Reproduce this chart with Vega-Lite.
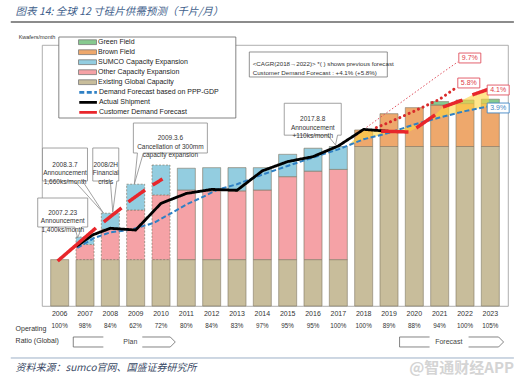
{
"$schema":"https://vega.github.io/schema/vega-lite/v6.json",
"width":466,"height":261,
"autosize":{"type":"none"},
"padding":{"left":42,"top":45,"right":15,"bottom":77},
"background":"white",
"config":{"font":"Liberation Sans","view":{"stroke":"#9a9a9a","strokeWidth":0.8}},
"datasets":{
"bars":[
{"year":2006,"series":"Existing Global Capacity","value":1600},
{"year":2007,"series":"Existing Global Capacity","value":1600},{"year":2007,"series":"Other Capacity Expansion","value":520},{"year":2007,"series":"SUMCO Capacity Expansion","value":260},
{"year":2008,"series":"Existing Global Capacity","value":1600},{"year":2008,"series":"Other Capacity Expansion","value":1050},{"year":2008,"series":"SUMCO Capacity Expansion","value":550},
{"year":2009,"series":"Existing Global Capacity","value":1600},{"year":2009,"series":"Other Capacity Expansion","value":1710},{"year":2009,"series":"SUMCO Capacity Expansion","value":890},
{"year":2010,"series":"Existing Global Capacity","value":1600},{"year":2010,"series":"Other Capacity Expansion","value":2230},{"year":2010,"series":"SUMCO Capacity Expansion","value":1030},
{"year":2011,"series":"Existing Global Capacity","value":1600},{"year":2011,"series":"Other Capacity Expansion","value":2400},{"year":2011,"series":"SUMCO Capacity Expansion","value":750},
{"year":2012,"series":"Existing Global Capacity","value":1600},{"year":2012,"series":"Other Capacity Expansion","value":2370},{"year":2012,"series":"SUMCO Capacity Expansion","value":800},
{"year":2013,"series":"Existing Global Capacity","value":1600},{"year":2013,"series":"Other Capacity Expansion","value":2370},{"year":2013,"series":"SUMCO Capacity Expansion","value":800},
{"year":2014,"series":"Existing Global Capacity","value":1600},{"year":2014,"series":"Other Capacity Expansion","value":2400},{"year":2014,"series":"SUMCO Capacity Expansion","value":770},
{"year":2015,"series":"Existing Global Capacity","value":1600},{"year":2015,"series":"Other Capacity Expansion","value":2860},{"year":2015,"series":"SUMCO Capacity Expansion","value":770},
{"year":2016,"series":"Existing Global Capacity","value":1600},{"year":2016,"series":"Other Capacity Expansion","value":3050},{"year":2016,"series":"SUMCO Capacity Expansion","value":790},
{"year":2017,"series":"Existing Global Capacity","value":1600},{"year":2017,"series":"Other Capacity Expansion","value":3110},{"year":2017,"series":"SUMCO Capacity Expansion","value":790},
{"year":2018,"series":"Existing Global Capacity","value":5500},{"year":2018,"series":"Brown Field","value":570},
{"year":2019,"series":"Existing Global Capacity","value":5500},{"year":2019,"series":"Brown Field","value":1130},
{"year":2020,"series":"Existing Global Capacity","value":5500},{"year":2020,"series":"Brown Field","value":1340},
{"year":2021,"series":"Existing Global Capacity","value":5500},{"year":2021,"series":"Brown Field","value":1430},{"year":2021,"series":"Green Field","value":120},
{"year":2022,"series":"Existing Global Capacity","value":5500},{"year":2022,"series":"Brown Field","value":1480},{"year":2022,"series":"Green Field","value":120},
{"year":2023,"series":"Existing Global Capacity","value":5500},{"year":2023,"series":"Brown Field","value":1480},{"year":2023,"series":"Green Field","value":150}
],
"stackorder":[
{"series":"Existing Global Capacity","level":1},{"series":"Other Capacity Expansion","level":2},{"series":"SUMCO Capacity Expansion","level":3},{"series":"Brown Field","level":4},{"series":"Green Field","level":5}
],
"lines":[
{"series":"Actual Shipment","seg":"a","year":2006.65,"value":2050},
{"series":"Actual Shipment","seg":"a","year":2007.3,"value":2450},
{"series":"Actual Shipment","seg":"a","year":2008,"value":2680},
{"series":"Actual Shipment","seg":"a","year":2009,"value":2620},
{"series":"Actual Shipment","seg":"a","year":2010,"value":3540},
{"series":"Actual Shipment","seg":"a","year":2011,"value":3880},
{"series":"Actual Shipment","seg":"a","year":2012,"value":4020},
{"series":"Actual Shipment","seg":"a","year":2013,"value":3990},
{"series":"Actual Shipment","seg":"a","year":2014,"value":4660},
{"series":"Actual Shipment","seg":"a","year":2015,"value":4980},
{"series":"Actual Shipment","seg":"a","year":2016,"value":5150},
{"series":"Actual Shipment","seg":"a","year":2017,"value":5520},
{"series":"Actual Shipment","seg":"a","year":2018,"value":6090},
{"series":"Actual Shipment","seg":"a","year":2019.2,"value":6010},
{"series":"Demand Forecast based on PPP-GDP","seg":"d","year":2006.7,"value":2000},
{"series":"Demand Forecast based on PPP-GDP","seg":"d","year":2007.35,"value":2340},
{"series":"Demand Forecast based on PPP-GDP","seg":"d","year":2008,"value":2540},
{"series":"Demand Forecast based on PPP-GDP","seg":"d","year":2008.8,"value":2630},
{"series":"Demand Forecast based on PPP-GDP","seg":"d","year":2009.7,"value":2860},
{"series":"Demand Forecast based on PPP-GDP","seg":"d","year":2010.3,"value":3150},
{"series":"Demand Forecast based on PPP-GDP","seg":"d","year":2011,"value":3500},
{"series":"Demand Forecast based on PPP-GDP","seg":"d","year":2011.7,"value":3780},
{"series":"Demand Forecast based on PPP-GDP","seg":"d","year":2012.2,"value":4000},
{"series":"Demand Forecast based on PPP-GDP","seg":"d","year":2013,"value":4200},
{"series":"Demand Forecast based on PPP-GDP","seg":"d","year":2014,"value":4530},
{"series":"Demand Forecast based on PPP-GDP","seg":"d","year":2015,"value":4830},
{"series":"Demand Forecast based on PPP-GDP","seg":"d","year":2016,"value":5120},
{"series":"Demand Forecast based on PPP-GDP","seg":"d","year":2017,"value":5400},
{"series":"Demand Forecast based on PPP-GDP","seg":"d","year":2018,"value":5750},
{"series":"Demand Forecast based on PPP-GDP","seg":"d","year":2019,"value":5970},
{"series":"Demand Forecast based on PPP-GDP","seg":"d","year":2020,"value":6260},
{"series":"Demand Forecast based on PPP-GDP","seg":"d","year":2021,"value":6500},
{"series":"Demand Forecast based on PPP-GDP","seg":"d","year":2022,"value":6720},
{"series":"Demand Forecast based on PPP-GDP","seg":"d","year":2023,"value":6900},
{"series":"Customer Demand Forecast","seg":"c1","year":2005.92,"value":1550},
{"series":"Customer Demand Forecast","seg":"c1","year":2007.43,"value":2690},
{"series":"Customer Demand Forecast","seg":"c2","year":2007.74,"value":2900},
{"series":"Customer Demand Forecast","seg":"c2","year":2008.44,"value":3380},
{"series":"Customer Demand Forecast","seg":"c3","year":2008.71,"value":3590},
{"series":"Customer Demand Forecast","seg":"c3","year":2009.37,"value":4000},
{"series":"Customer Demand Forecast","seg":"c4","year":2009.67,"value":4170},
{"series":"Customer Demand Forecast","seg":"c4","year":2010.06,"value":4380},
{"series":"Customer Demand Forecast","seg":"c5","year":2018.69,"value":6030},
{"series":"Customer Demand Forecast","seg":"c5","year":2019.77,"value":6000},
{"series":"Customer Demand Forecast","seg":"c6","year":2020.08,"value":6140},
{"series":"Customer Demand Forecast","seg":"c6","year":2020.82,"value":6590},
{"series":"Customer Demand Forecast","seg":"c7","year":2021.13,"value":6860},
{"series":"Customer Demand Forecast","seg":"c7","year":2021.9,"value":7100},
{"series":"Customer Demand Forecast","seg":"c8","year":2022.29,"value":7280},
{"series":"Customer Demand Forecast","seg":"c8","year":2022.94,"value":7480},
{"series":"Previous forecast (9.7%)","seg":"p1","year":2018,"value":6090},
{"series":"Previous forecast (9.7%)","seg":"p1","year":2019,"value":6720},
{"series":"Previous forecast (9.7%)","seg":"p1","year":2020,"value":7350},
{"series":"Previous forecast (9.7%)","seg":"p1","year":2021,"value":7980},
{"series":"Previous forecast (9.7%)","seg":"p1","year":2021.72,"value":8420},
{"series":"Previous forecast (5.8%)","seg":"p2","year":2018.5,"value":6150},
{"series":"Previous forecast (5.8%)","seg":"p2","year":2019,"value":6330},
{"series":"Previous forecast (5.8%)","seg":"p2","year":2020,"value":6720},
{"series":"Previous forecast (5.8%)","seg":"p2","year":2021,"value":7130},
{"series":"Previous forecast (5.8%)","seg":"p2","year":2021.7,"value":7560}
],
"band":[
{"year":2017.4,"lo":5540,"hi":5540},
{"year":2018,"lo":5750,"hi":6090},
{"year":2018.7,"lo":5900,"hi":6030},
{"year":2019.2,"lo":6030,"hi":6020},
{"year":2019.77,"lo":6190,"hi":6000},
{"year":2020.08,"lo":6280,"hi":6140},
{"year":2020.82,"lo":6460,"hi":6590},
{"year":2021.13,"lo":6530,"hi":6860},
{"year":2021.9,"lo":6700,"hi":7100},
{"year":2022.29,"lo":6780,"hi":7280},
{"year":2022.94,"lo":6890,"hi":7480}
],
"ratios":[
{"year":2006,"ratio":"100%"},{"year":2007,"ratio":"98%"},{"year":2008,"ratio":"84%"},{"year":2009,"ratio":"62%"},{"year":2010,"ratio":"72%"},{"year":2011,"ratio":"80%"},{"year":2012,"ratio":"84%"},{"year":2013,"ratio":"83%"},{"year":2014,"ratio":"97%"},{"year":2015,"ratio":"95%"},{"year":2016,"ratio":"95%"},{"year":2017,"ratio":"100%"},{"year":2018,"ratio":"100%"},{"year":2019,"ratio":"89%"},{"year":2020,"ratio":"88%"},{"year":2021,"ratio":"94%"},{"year":2022,"ratio":"100%"},{"year":2023,"ratio":"105%"}
],
"pct":[
{"label":"9.7%","year":2022.19,"value":8552},
{"label":"5.8%","year":2022.15,"value":7690},
{"label":"4.1%","year":2023.31,"value":7448},
{"label":"3.9%","year":2023.31,"value":6828}
],
"linelegend":[
{"series":"Demand Forecast based on PPP-GDP","row":7369},
{"series":"Actual Shipment","row":7024},
{"series":"Customer Demand Forecast","row":6679}
]
},
"layer":[
{"data":{"name":"bars"},
 "transform":[{"lookup":"series","from":{"data":{"name":"stackorder"},"key":"series","fields":["level"]}}],
 "mark":{"type":"bar","size":18,"stroke":"#857c6a","strokeWidth":0.7},
 "encoding":{
  "x":{"field":"year","type":"quantitative","scale":{"domain":[2005.5,2023.5],"nice":false,"zero":false},
       "axis":{"values":[2006,2007,2008,2009,2010,2011,2012,2013,2014,2015,2016,2017,2018,2019,2020,2021,2022,2023],"labels":false,"title":null,"ticks":false,"domainColor":"#666","grid":false}},
  "y":{"field":"value","type":"quantitative","stack":"zero","scale":{"domain":[0,9000],"nice":false,"zero":false},
       "axis":{"values":[0,1000,2000,3000,4000,5000,6000,7000,8000,9000],"format":",","title":null,"labelFontSize":7.7,"labelColor":"#444","tickSize":4,"tickColor":"#666","domainColor":"#666","grid":false,"labelPadding":2}},
  "fill":{"field":"series","type":"nominal",
       "scale":{"domain":["Green Field","Brown Field","SUMCO Capacity Expansion","Other Capacity Expansion","Existing Global Capacity"],"range":["#86c98f","#eea86c","#93cde0","#f5a2a6","#c8bd9b"]},
       "legend":{"orient":"none","legendX":42,"legendY":-6.3,"title":null,"symbolType":"M-3,-0.8H3V0.8H-3Z","symbolSize":36,"symbolStrokeColor":"#7a7a7a","symbolStrokeWidth":0.8,"labelFontSize":7,"labelColor":"#222","labelOffset":7,"rowPadding":1}},
  "strokeDash":{"condition":{"test":"datum.year >= 2007 && datum.year <= 2010 && datum.series != 'Existing Global Capacity'","value":[2,1.5]},"value":[1,0]},
  "order":{"field":"level","type":"quantitative"}
 }},
{"data":{"name":"band"},
 "mark":{"type":"area","color":"#ffd640","opacity":0.6},
 "encoding":{
  "x":{"field":"year","type":"quantitative","scale":{"domain":[2005.5,2023.5],"nice":false,"zero":false},"axis":null},
  "y":{"field":"lo","type":"quantitative","scale":{"domain":[0,9000],"nice":false,"zero":false},"axis":null},
  "y2":{"field":"hi"}
 }},
{"data":{"name":"lines"},
 "transform":[{"filter":"datum.series == 'Previous forecast (9.7%)'"}],
 "mark":{"type":"line","color":"#e0505e","strokeWidth":1,"strokeDash":[1.5,2]},
 "encoding":{
  "x":{"field":"year","type":"quantitative","scale":{"domain":[2005.5,2023.5],"nice":false,"zero":false},"axis":null},
  "y":{"field":"value","type":"quantitative","scale":{"domain":[0,9000],"nice":false,"zero":false},"axis":null}
 }},
{"data":{"name":"lines"},
 "transform":[{"filter":"datum.series == 'Previous forecast (5.8%)'"}],
 "mark":{"type":"line","color":"#d92b2b","strokeWidth":3,"strokeDash":[0.1,5],"strokeCap":"round"},
 "encoding":{
  "x":{"field":"year","type":"quantitative","scale":{"domain":[2005.5,2023.5],"nice":false,"zero":false},"axis":null},
  "y":{"field":"value","type":"quantitative","scale":{"domain":[0,9000],"nice":false,"zero":false},"axis":null}
 }},
{"data":{"name":"lines"},
 "transform":[{"filter":"datum.series == 'Demand Forecast based on PPP-GDP'"}],
 "mark":{"type":"line","strokeWidth":2},
 "encoding":{
  "x":{"field":"year","type":"quantitative","scale":{"domain":[2005.5,2023.5],"nice":false,"zero":false},"axis":null},
  "y":{"field":"value","type":"quantitative","scale":{"domain":[0,9000],"nice":false,"zero":false},"axis":null},
  "stroke":{"field":"series","type":"nominal","scale":{"domain":["Demand Forecast based on PPP-GDP","Actual Shipment","Customer Demand Forecast"],"range":["#2f80c4","#000000","#e8262b"]},"legend":null},
  "strokeDash":{"field":"series","type":"nominal","scale":{"domain":["Demand Forecast based on PPP-GDP","Actual Shipment","Customer Demand Forecast"],"range":[[5,2.5],[1,0],[1,0]]},"legend":null}
 }},
{"data":{"name":"lines"},
 "transform":[{"filter":"datum.series == 'Actual Shipment'"}],
 "mark":{"type":"line","strokeWidth":2.8},
 "encoding":{
  "x":{"field":"year","type":"quantitative","scale":{"domain":[2005.5,2023.5],"nice":false,"zero":false},"axis":null},
  "y":{"field":"value","type":"quantitative","scale":{"domain":[0,9000],"nice":false,"zero":false},"axis":null},
  "stroke":{"field":"series","type":"nominal","scale":{"domain":["Demand Forecast based on PPP-GDP","Actual Shipment","Customer Demand Forecast"],"range":["#2f80c4","#000000","#e8262b"]},"legend":null},
  "strokeDash":{"field":"series","type":"nominal","scale":{"domain":["Demand Forecast based on PPP-GDP","Actual Shipment","Customer Demand Forecast"],"range":[[5,2.5],[1,0],[1,0]]},"legend":null}
 }},
{"data":{"name":"lines"},
 "transform":[{"filter":"datum.series == 'Customer Demand Forecast'"}],
 "mark":{"type":"line","strokeWidth":3.5},
 "encoding":{
  "x":{"field":"year","type":"quantitative","scale":{"domain":[2005.5,2023.5],"nice":false,"zero":false},"axis":null},
  "y":{"field":"value","type":"quantitative","scale":{"domain":[0,9000],"nice":false,"zero":false},"axis":null},
  "detail":{"field":"seg"},
  "stroke":{"field":"series","type":"nominal","scale":{"domain":["Demand Forecast based on PPP-GDP","Actual Shipment","Customer Demand Forecast"],"range":["#2f80c4","#000000","#e8262b"]},"legend":null},
  "strokeDash":{"field":"series","type":"nominal","scale":{"domain":["Demand Forecast based on PPP-GDP","Actual Shipment","Customer Demand Forecast"],"range":[[5,2.5],[1,0],[1,0]]},"legend":null}
 }},
{"data":{"values":[{}]},
 "mark":{"type":"point","shape":"M-1,-0.4576H1V0.4576H-1Z","size":31329,"filled":true,"fill":"white","stroke":"#666","strokeWidth":0.8,"opacity":1},
 "encoding":{"x":{"datum":2009.46,"type":"quantitative","scale":{"domain":[2005.5,2023.5],"nice":false,"zero":false},"axis":null},"y":{"datum":7879,"type":"quantitative","scale":{"domain":[0,9000],"nice":false,"zero":false},"axis":null}}},
{"data":{"name":"linelegend"},
 "mark":{"type":"rule","strokeWidth":2.8},
 "encoding":{"x":{"datum":2006.774,"type":"quantitative","scale":{"domain":[2005.5,2023.5],"nice":false,"zero":false},"axis":null},"x2":{"datum":2007.47},
  "y":{"field":"row","type":"quantitative","scale":{"domain":[0,9000],"nice":false,"zero":false},"axis":null},
  "stroke":{"field":"series","type":"nominal","scale":{"domain":["Demand Forecast based on PPP-GDP","Actual Shipment","Customer Demand Forecast"],"range":["#2f80c4","#000000","#e8262b"]},"legend":null},
  "strokeDash":{"field":"series","type":"nominal","scale":{"domain":["Demand Forecast based on PPP-GDP","Actual Shipment","Customer Demand Forecast"],"range":[[5,2.5],[1,0],[1,0]]},"legend":null}}},
{"data":{"name":"linelegend"},
 "mark":{"type":"text","fontSize":7,"color":"#222","align":"left","baseline":"middle"},
 "encoding":{"x":{"datum":2007.55,"type":"quantitative","scale":{"domain":[2005.5,2023.5],"nice":false,"zero":false},"axis":null},
  "y":{"field":"row","type":"quantitative","scale":{"domain":[0,9000],"nice":false,"zero":false},"axis":null},
  "text":{"field":"series"}}},
{"data":{"values":[{}]},
 "mark":{"type":"point","shape":"M-1,-0.58H1V0.58H0.76L0.6,1.02L0.48,0.58H-1Z","size":2500,"filled":true,"fill":"white","stroke":"#8a8a8a","strokeWidth":0.8,"opacity":1},
 "encoding":{"x":{"datum":2006.12,"type":"quantitative","scale":{"domain":[2005.5,2023.5],"nice":false,"zero":false},"axis":null},"y":{"datum":3224,"type":"quantitative","scale":{"domain":[0,9000],"nice":false,"zero":false},"axis":null}}},
{"data":{"values":[{}]},
 "mark":{"type":"text","text":["2007.2.23","Announcement","1,400ks/month"],"fontSize":6.5,"lineHeight":8.8,"color":"#333","baseline":"middle"},
 "encoding":{"x":{"datum":2006.12,"type":"quantitative","scale":{"domain":[2005.5,2023.5],"nice":false,"zero":false},"axis":null},"y":{"datum":3224,"type":"quantitative","scale":{"domain":[0,9000],"nice":false,"zero":false},"axis":null}}},
{"data":{"values":[{}]},
 "mark":{"type":"point","shape":"M-1,-0.733H1V0.733H0.78L1.71,2.16L0.42,0.733H-1Z","size":2025,"filled":true,"fill":"white","stroke":"#8a8a8a","strokeWidth":0.8,"opacity":1},
 "encoding":{"x":{"datum":2006.21,"type":"quantitative","scale":{"domain":[2005.5,2023.5],"nice":false,"zero":false},"axis":null},"y":{"datum":4879,"type":"quantitative","scale":{"domain":[0,9000],"nice":false,"zero":false},"axis":null}}},
{"data":{"values":[{}]},
 "mark":{"type":"text","text":["2008.3.7","Announcement","1,660ks/month"],"fontSize":6.5,"lineHeight":8.8,"color":"#333","baseline":"middle"},
 "encoding":{"x":{"datum":2006.21,"type":"quantitative","scale":{"domain":[2005.5,2023.5],"nice":false,"zero":false},"axis":null},"y":{"datum":4879,"type":"quantitative","scale":{"domain":[0,9000],"nice":false,"zero":false},"axis":null}}},
{"data":{"values":[{}]},
 "mark":{"type":"point","shape":"M-1,-1.27H1V1.27H0.85L0.54,3.65L0.35,1.27H-1Z","size":676,"filled":true,"fill":"white","stroke":"#8a8a8a","strokeWidth":0.8,"opacity":1},
 "encoding":{"x":{"datum":2007.82,"type":"quantitative","scale":{"domain":[2005.5,2023.5],"nice":false,"zero":false},"axis":null},"y":{"datum":4879,"type":"quantitative","scale":{"domain":[0,9000],"nice":false,"zero":false},"axis":null}}},
{"data":{"values":[{}]},
 "mark":{"type":"text","text":["2008/2H","Financial","crisis"],"fontSize":6.5,"lineHeight":8.8,"color":"#333","baseline":"middle"},
 "encoding":{"x":{"datum":2007.82,"type":"quantitative","scale":{"domain":[2005.5,2023.5],"nice":false,"zero":false},"axis":null},"y":{"datum":4879,"type":"quantitative","scale":{"domain":[0,9000],"nice":false,"zero":false},"axis":null}}},
{"data":{"values":[{}]},
 "mark":{"type":"point","shape":"M-1,-0.405H1V0.405H-0.73L-0.973,1.243L-0.89,0.405H-1Z","size":5476,"filled":true,"fill":"white","stroke":"#8a8a8a","strokeWidth":0.8,"opacity":1},
 "encoding":{"x":{"datum":2010.37,"type":"quantitative","scale":{"domain":[2005.5,2023.5],"nice":false,"zero":false},"axis":null},"y":{"datum":5793,"type":"quantitative","scale":{"domain":[0,9000],"nice":false,"zero":false},"axis":null}}},
{"data":{"values":[{}]},
 "mark":{"type":"text","text":["2009.3.6","Cancellation of 300mm","capacity expansion"],"fontSize":6.5,"lineHeight":8.6,"color":"#333","baseline":"middle"},
 "encoding":{"x":{"datum":2010.37,"type":"quantitative","scale":{"domain":[2005.5,2023.5],"nice":false,"zero":false},"axis":null},"y":{"datum":5793,"type":"quantitative","scale":{"domain":[0,9000],"nice":false,"zero":false},"axis":null}}},
{"data":{"values":[{}]},
 "mark":{"type":"point","shape":"M-1,-0.56H1V0.56H0.87L0.8,0.905L0.52,0.56H-1Z","size":3249,"filled":true,"fill":"white","stroke":"#8a8a8a","strokeWidth":0.8,"opacity":1},
 "encoding":{"x":{"datum":2015.99,"type":"quantitative","scale":{"domain":[2005.5,2023.5],"nice":false,"zero":false},"axis":null},"y":{"datum":6441,"type":"quantitative","scale":{"domain":[0,9000],"nice":false,"zero":false},"axis":null}}},
{"data":{"values":[{}]},
 "mark":{"type":"text","text":["2017.8.8","Announcement","+110ks/month"],"fontSize":6.5,"lineHeight":8.6,"color":"#333","baseline":"middle"},
 "encoding":{"x":{"datum":2015.99,"type":"quantitative","scale":{"domain":[2005.5,2023.5],"nice":false,"zero":false},"axis":null},"y":{"datum":6441,"type":"quantitative","scale":{"domain":[0,9000],"nice":false,"zero":false},"axis":null}}},
{"data":{"values":[{}]},
 "mark":{"type":"point","shape":"M-1,-0.181H1V0.181H-1Z","size":19044,"filled":true,"fill":"white","stroke":"#777","strokeWidth":0.8,"opacity":1},
 "encoding":{"x":{"datum":2016.21,"type":"quantitative","scale":{"domain":[2005.5,2023.5],"nice":false,"zero":false},"axis":null},"y":{"datum":8328,"type":"quantitative","scale":{"domain":[0,9000],"nice":false,"zero":false},"axis":null}}},
{"data":{"values":[{}]},
 "mark":{"type":"text","text":["<CAGR(2018→2022)> *( ) shows previous forecast","Customer Demand Forecast : +4.1% (+5.8%)"],"fontSize":6.2,"lineHeight":9.3,"color":"#333","align":"left","baseline":"middle"},
 "encoding":{"x":{"datum":2013.62,"type":"quantitative","scale":{"domain":[2005.5,2023.5],"nice":false,"zero":false},"axis":null},"y":{"datum":8359,"type":"quantitative","scale":{"domain":[0,9000],"nice":false,"zero":false},"axis":null}}},
{"data":{"name":"pct"},
 "mark":{"type":"point","shape":"M-1,-0.45H1V0.45H-1Z","size":484,"filled":true,"fill":"white","strokeWidth":0.9,"opacity":1},
 "encoding":{"x":{"field":"year","type":"quantitative","scale":{"domain":[2005.5,2023.5],"nice":false,"zero":false},"axis":null},"y":{"field":"value","type":"quantitative","scale":{"domain":[0,9000],"nice":false,"zero":false},"axis":null},
  "stroke":{"condition":{"test":"datum.label == '3.9%'","value":"#3f86c4"},"value":"#e0505e"}}},
{"data":{"name":"pct"},
 "mark":{"type":"text","fontSize":7,"baseline":"middle"},
 "encoding":{"x":{"field":"year","type":"quantitative","scale":{"domain":[2005.5,2023.5],"nice":false,"zero":false},"axis":null},"y":{"field":"value","type":"quantitative","scale":{"domain":[0,9000],"nice":false,"zero":false},"axis":null},
  "text":{"field":"label"},
  "color":{"condition":{"test":"datum.label == '3.9%'","value":"#3f86c4"},"value":"#e0404a"}}},
{"data":{"name":"ratios"},
 "mark":{"type":"text","fontSize":7,"color":"#333","yOffset":8,"baseline":"middle"},
 "encoding":{"x":{"field":"year","type":"quantitative","scale":{"domain":[2005.5,2023.5],"nice":false,"zero":false},"axis":null},"y":{"datum":0,"type":"quantitative","scale":{"domain":[0,9000],"nice":false,"zero":false},"axis":null},"text":{"field":"year","type":"quantitative","format":"d"}}},
{"data":{"name":"ratios"},
 "mark":{"type":"text","fontSize":6.3,"color":"#333","yOffset":20,"baseline":"middle"},
 "encoding":{"x":{"field":"year","type":"quantitative","scale":{"domain":[2005.5,2023.5],"nice":false,"zero":false},"axis":null},"y":{"datum":0,"type":"quantitative","scale":{"domain":[0,9000],"nice":false,"zero":false},"axis":null},"text":{"field":"ratio"}}},
{"data":{"values":[{}]},
 "mark":{"type":"text","text":["Operating","Ratio (Global)"],"fontSize":7,"lineHeight":12,"color":"#333","align":"left","baseline":"middle","yOffset":23},
 "encoding":{"x":{"datum":2004.26,"type":"quantitative","scale":{"domain":[2005.5,2023.5],"nice":false,"zero":false},"axis":null},"y":{"datum":0,"type":"quantitative","scale":{"domain":[0,9000],"nice":false,"zero":false},"axis":null}}},
{"data":{"values":[{}]},
 "mark":{"type":"point","shape":"M-0.41,-0.098H-1V0.098H-0.41M0.353,-0.098H0.902L1,0L0.902,0.098H0.353","size":10404,"filled":false,"stroke":"#666","strokeWidth":0.8,"opacity":1},
 "encoding":{"x":{"datum":2008.55,"type":"quantitative","scale":{"domain":[2005.5,2023.5],"nice":false,"zero":false},"axis":null},"y":{"datum":-1241,"type":"quantitative","scale":{"domain":[0,9000],"nice":false,"zero":false},"axis":null}}},
{"data":{"values":[{}]},
 "mark":{"type":"point","shape":"M-0.423,-0.096H-1V0.096H-0.423M0.327,-0.096H0.904L1,0L0.904,0.096H0.327","size":10816,"filled":false,"stroke":"#666","strokeWidth":0.8,"opacity":1},
 "encoding":{"x":{"datum":2021.47,"type":"quantitative","scale":{"domain":[2005.5,2023.5],"nice":false,"zero":false},"axis":null},"y":{"datum":-1241,"type":"quantitative","scale":{"domain":[0,9000],"nice":false,"zero":false},"axis":null}}},
{"data":{"values":[{}]},
 "mark":{"type":"text","text":"Plan","fontSize":7,"color":"#444","baseline":"middle"},
 "encoding":{"x":{"datum":2008.79,"type":"quantitative","scale":{"domain":[2005.5,2023.5],"nice":false,"zero":false},"axis":null},"y":{"datum":-1241,"type":"quantitative","scale":{"domain":[0,9000],"nice":false,"zero":false},"axis":null}}},
{"data":{"values":[{}]},
 "mark":{"type":"text","text":"Forecast","fontSize":7,"color":"#444","baseline":"middle"},
 "encoding":{"x":{"datum":2021.36,"type":"quantitative","scale":{"domain":[2005.5,2023.5],"nice":false,"zero":false},"axis":null},"y":{"datum":-1241,"type":"quantitative","scale":{"domain":[0,9000],"nice":false,"zero":false},"axis":null}}},
{"data":{"values":[{}]},
 "mark":{"type":"text","text":"Kwafers/month","fontSize":5.5,"color":"#333","align":"left","baseline":"middle"},
 "encoding":{"x":{"datum":2004.38,"type":"quantitative","scale":{"domain":[2005.5,2023.5],"nice":false,"zero":false},"axis":null},"y":{"datum":9276,"type":"quantitative","scale":{"domain":[0,9000],"nice":false,"zero":false},"axis":null}}},
{"data":{"values":[{}]},
 "mark":{"type":"text","text":"图表 14: 全球 12 寸硅片供需预测（千片/月）","font":"Noto Sans CJK SC","fontSize":10.5,"fontStyle":"italic","color":"#3f5f8c","align":"left","baseline":"middle"},
 "encoding":{"x":{"datum":2004.26,"type":"quantitative","scale":{"domain":[2005.5,2023.5],"nice":false,"zero":false},"axis":null},"y":{"datum":10138,"type":"quantitative","scale":{"domain":[0,9000],"nice":false,"zero":false},"axis":null}}},
{"data":{"values":[{}]},
 "mark":{"type":"rule","color":"#8c8c8c","strokeWidth":2},
 "encoding":{"x":{"datum":2004.07,"type":"quantitative","scale":{"domain":[2005.5,2023.5],"nice":false,"zero":false},"axis":null},"x2":{"datum":2023.93},"y":{"datum":9793,"type":"quantitative","scale":{"domain":[0,9000],"nice":false,"zero":false},"axis":null}}},
{"data":{"values":[{}]},
 "mark":{"type":"rule","color":"#9cb0c6","strokeWidth":1},
 "encoding":{"x":{"datum":2004.07,"type":"quantitative","scale":{"domain":[2005.5,2023.5],"nice":false,"zero":false},"axis":null},"x2":{"datum":2023.93},"y":{"datum":-1793,"type":"quantitative","scale":{"domain":[0,9000],"nice":false,"zero":false},"axis":null}}},
{"data":{"values":[{}]},
 "mark":{"type":"text","text":"资料来源：sumco官网、国盛证券研究所","font":"Noto Sans CJK SC","fontSize":10,"fontStyle":"italic","color":"#3a4a66","align":"left","baseline":"middle"},
 "encoding":{"x":{"datum":2004.26,"type":"quantitative","scale":{"domain":[2005.5,2023.5],"nice":false,"zero":false},"axis":null},"y":{"datum":-2138,"type":"quantitative","scale":{"domain":[0,9000],"nice":false,"zero":false},"axis":null}}},
{"data":{"values":[{}]},
 "mark":{"type":"text","text":"@智通财经APP","font":"Noto Sans CJK SC","fontSize":15,"fontWeight":"bold","color":"#d4d4d4","align":"right","baseline":"middle"},
 "encoding":{"x":{"datum":2023.93,"type":"quantitative","scale":{"domain":[2005.5,2023.5],"nice":false,"zero":false},"axis":null},"y":{"datum":-2138,"type":"quantitative","scale":{"domain":[0,9000],"nice":false,"zero":false},"axis":null}}}
]
}
